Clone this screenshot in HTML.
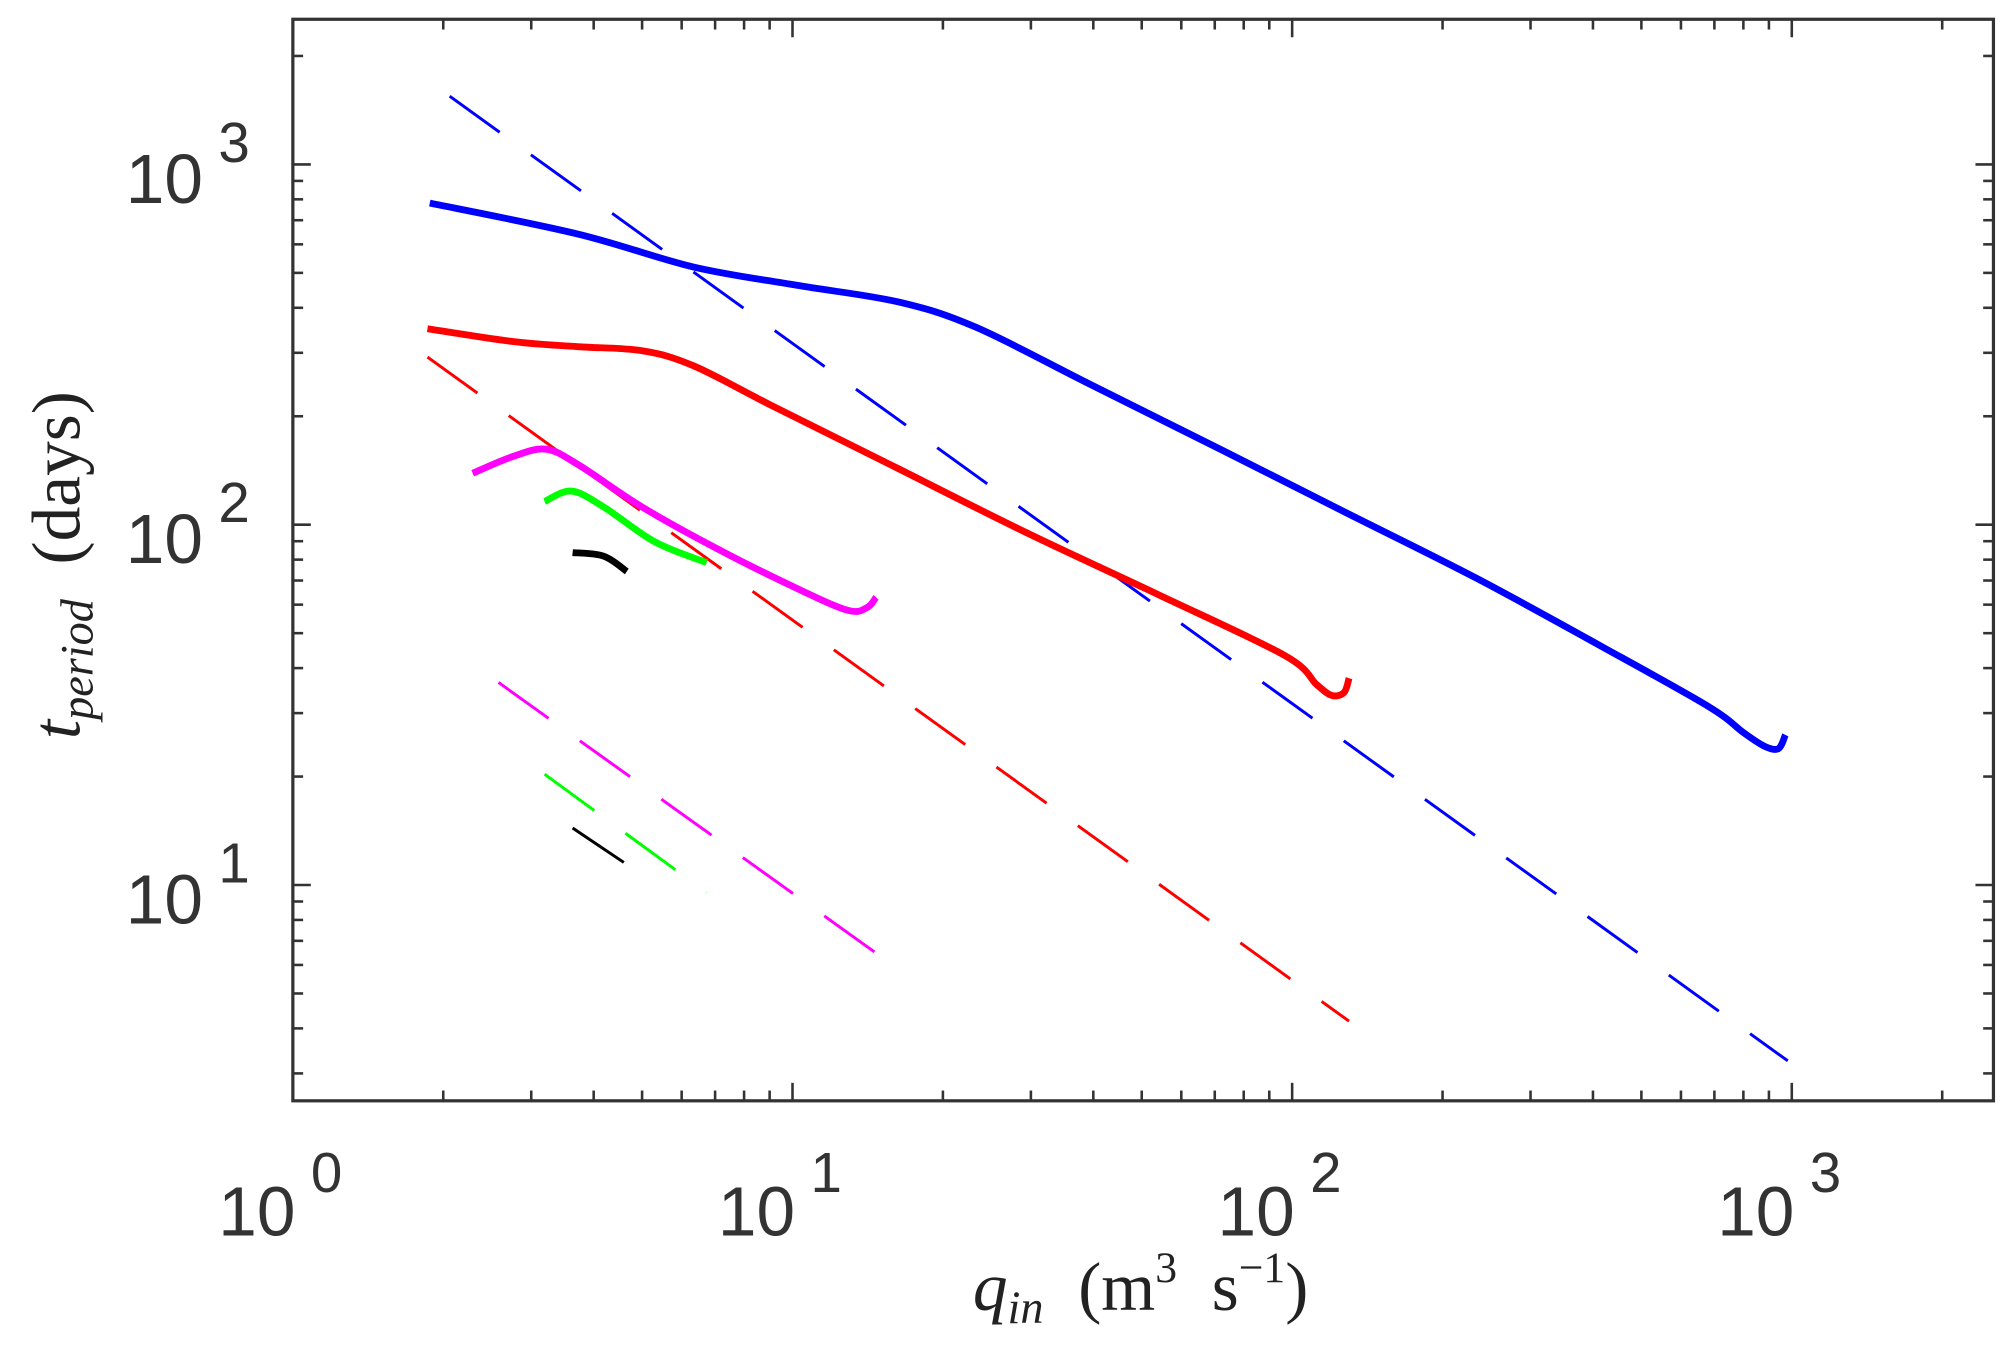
<!DOCTYPE html>
<html><head><meta charset="utf-8"><style>
html,body{margin:0;padding:0;background:#fff;}
svg{display:block;}
</style></head><body>
<svg id="chart" width="2014" height="1350" viewBox="0 0 1568 1051" preserveAspectRatio="none" xmlns="http://www.w3.org/2000/svg">
<rect x="0" y="0" width="1568" height="1051" fill="#fff"/>
<g id="ticks"></g>
<g id="series"></g>
<rect x="228" y="15" width="1324" height="842" fill="none" stroke="#333" stroke-width="2.5"/>
<g id="labels" font-family="'Liberation Sans', sans-serif" fill="#333"></g>
<text x="888" y="1020" text-anchor="middle" font-family="'Liberation Serif', serif" font-size="54" fill="#222"><tspan font-style="italic">q</tspan><tspan font-style="italic" font-size="36" dy="10">in</tspan><tspan dy="-10">&#160;&#160;(m</tspan><tspan font-size="34" dy="-22">3</tspan><tspan dy="22">&#160;&#160;s</tspan><tspan font-size="34" dy="-22">−1</tspan><tspan dy="22">)</tspan></text>
<text transform="translate(62,440) rotate(-90)" text-anchor="middle" font-family="'Liberation Serif', serif" font-size="54" fill="#222"><tspan font-style="italic">t</tspan><tspan font-style="italic" font-size="36" dy="10">period</tspan><tspan dy="-10">&#160;&#160;(days)</tspan></text>
</svg>
<script>
const xDecades = [0, 1, 2, 3];
const yDecades = [1, 2, 3];
const xTickLabels = ["10", "10", "10", "10"];
const blueQ = [1.88,3.72,6.34,10.2,16.3,23.3,39.7,71.8,130,234,424,681,800,880,940,971];
const blueT = [781,641,519,462,415,353,244,162,107,71,45.3,31.3,26.5,24.3,23.9,26.1];
const redQ = [1.86,2.77,3.72,5.0,6.34,9.04,16.3,29.5,53.4,96.5,112,120,127,130];
const redT = [350,322,312,304,276,215,143,94.8,64.4,43.4,36.0,33.6,34.2,37.5];
const magQ = [2.29,2.77,3.21,3.72,5.0,7.13,10.2,12.9,14.1,14.7];
const magT = [139,155,162,147,112,85.2,66.6,57.9,58.9,62.9];
const grnQ = [3.19,3.61,4.19,5.31,6.73];
const grnT = [116,124,112,89.5,78.5];
const blkQ = [3.63,4.19,4.66];
const blkT = [83.7,81.8,74.2];
const blueDashQ = [2.06, 982];
const blueDashT = [1546, 3.25];
const redDashQ = [1.86, 130];
const redDashT = [292, 4.19];
const magDashQ = [2.58, 14.7];
const magDashT = [36.5, 6.47];
const grnDashQ = [3.19, 6.73];
const grnDashT = [20.3, 9.53];
const blkDashQ = [3.63, 4.66];
const blkDashT = [14.4, 11.4];

const NS = "http://www.w3.org/2000/svg";
const X0 = 228, XD = 389, Y3 = 128, YD = 280.5;
function xs(q){ return X0 + Math.log10(q) * XD; }
function ys(t){ return Y3 + (3 - Math.log10(t)) * YD; }

const tg = document.getElementById('ticks');
function tick(x1,y1,x2,y2){
  const l = document.createElementNS(NS,'line');
  l.setAttribute('x1',x1); l.setAttribute('y1',y1); l.setAttribute('x2',x2); l.setAttribute('y2',y2);
  l.setAttribute('stroke','#333'); l.setAttribute('stroke-width','2');
  
  
  tg.appendChild(l);
}
for (let d = 0; d <= 3; d++) {
  for (let m = 1; m <= 9; m++) {
    const v = Math.pow(10, d) * m;
    const x = xs(v);
    if (x > 1552) break;
    const len = m === 1 ? 14 : 8;
    tick(x, 857, x, 857 - len);
    tick(x, 15, x, 15 + len);
  }
}
for (let d = 0; d <= 3; d++) {
  for (let m = 1; m <= 9; m++) {
    const v = Math.pow(10, d) * m;
    const y = ys(v);
    if (y > 857 || y < 15) continue;
    const len = m === 1 ? 14 : 8;
    tick(228, y, 228 + len, y);
    tick(1552, y, 1552 - len, y);
  }
}

const lg = document.getElementById('labels');
function lab(x, y, txt, size, anchor, name){
  const t = document.createElementNS(NS,'text');
  t.setAttribute('x', x); t.setAttribute('y', y);
  t.setAttribute('font-size', size);
  t.setAttribute('text-anchor', anchor);
  t.textContent = txt;
  
  
  lg.appendChild(t);
}
xDecades.forEach((d, i) => {
  const x = xs(Math.pow(10, d));
  lab(x + 2, 962, xTickLabels[i], 54, 'end', 'x-tick-label');
  lab(x + 14, 928, String(d), 44, 'start', 'x-tick-exponent');
});
yDecades.forEach((d) => {
  const y = ys(Math.pow(10, d));
  lab(158, y + 30, "10", 54, 'end', 'y-tick-label');
  lab(170, y - 2, String(d), 44, 'start', 'y-tick-exponent');
});

const sg = document.getElementById('series');
function line(qs, ts, color, w, dash, name){
  const p = document.createElementNS(NS,'path');
  const pts = qs.map((q, i) => [xs(q), ys(ts[i])]);
  let d = 'M' + pts[0][0].toFixed(1) + ',' + pts[0][1].toFixed(1);
  for (let i = 0; i < pts.length - 1; i++) {
    const p0 = pts[Math.max(0, i - 1)], p1 = pts[i], p2 = pts[i + 1], p3 = pts[Math.min(pts.length - 1, i + 2)];
    const c1x = p1[0] + (p2[0] - p0[0]) / 6, c1y = p1[1] + (p2[1] - p0[1]) / 6;
    const c2x = p2[0] - (p3[0] - p1[0]) / 6, c2y = p2[1] - (p3[1] - p1[1]) / 6;
    d += 'C' + c1x.toFixed(1) + ',' + c1y.toFixed(1) + ' ' + c2x.toFixed(1) + ',' + c2y.toFixed(1) + ' ' + p2[0].toFixed(1) + ',' + p2[1].toFixed(1);
  }
  p.setAttribute('d', d);
  p.setAttribute('fill', 'none');
  p.setAttribute('stroke', color);
  p.setAttribute('stroke-width', w);
  p.setAttribute('stroke-linejoin', 'round');
  if (dash) p.setAttribute('stroke-dasharray', dash);
  
  
  sg.appendChild(p);
}
line(blueDashQ, blueDashT, '#0000ff', 2.3, '48,30', 'blue-dashed-line');
line(redDashQ, redDashT, '#ff0000', 2.3, '48,30', 'red-dashed-line');
line(magDashQ, magDashT, '#ff00ff', 2.3, '48,30', 'magenta-dashed-line');
line(grnDashQ, grnDashT, '#00ff00', 2.3, '48,30', 'green-dashed-line');
line(blkDashQ, blkDashT, '#000000', 2.3, '48,30', 'black-dashed-line');
line(blueQ, blueT, '#0000ff', 5.3, null, 'blue-solid-line');
line(redQ, redT, '#ff0000', 5.3, null, 'red-solid-line');
line(magQ, magT, '#ff00ff', 5.3, null, 'magenta-solid-line');
line(grnQ, grnT, '#00ff00', 5.3, null, 'green-solid-line');
line(blkQ, blkT, '#000000', 5.3, null, 'black-solid-line');
</script>
</body></html>
